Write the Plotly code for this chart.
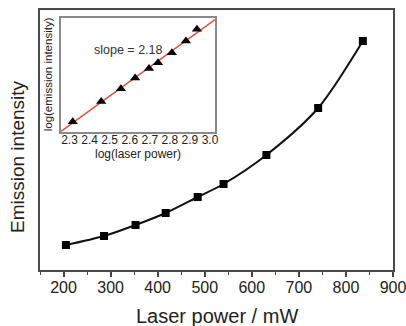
import numpy as np
import plotly.graph_objects as go

# Main data
laser_power = [205, 286, 353, 417, 485, 540, 631, 741, 836]          # mW
emission = [25, 34, 45, 57, 73, 86, 115, 162, 229]                   # a.u.

# Inset data (log-log)
log_power = [2.316, 2.458, 2.556, 2.627, 2.696, 2.741, 2.810, 2.880, 2.935]
log_emission = [3.093, 3.380, 3.562, 3.714, 3.850, 3.930, 4.073, 4.240, 4.407]

x_ticks_main = [200, 300, 400, 500, 600, 700, 800, 900]
x_ticks_inset = [2.3, 2.4, 2.5, 2.6, 2.7, 2.8, 2.9, 3.0]
slope_label = "slope = 2.18"

FONT = "Arial, Liberation Sans, Helvetica, sans-serif"

# linear fit for inset
coef = np.polyfit(log_power, log_emission, 1)
fit_x = np.array([2.256, 3.025])
fit_y = np.polyval(coef, fit_x)

fig = go.Figure()

fig.add_trace(go.Scatter(
    x=laser_power, y=emission, mode="lines+markers",
    line=dict(color="#111", width=2, shape="spline", smoothing=0.8),
    marker=dict(symbol="square", size=8, color="#000"),
    xaxis="x", yaxis="y", showlegend=False))

fig.add_trace(go.Scatter(
    x=fit_x, y=fit_y, mode="lines",
    line=dict(color="#e0513a", width=1.5),
    xaxis="x2", yaxis="y2", showlegend=False))

fig.add_trace(go.Scatter(
    x=log_power, y=log_emission, mode="markers",
    marker=dict(symbol="triangle-up", size=9, color="#000"),
    xaxis="x2", yaxis="y2", showlegend=False))

fig.update_layout(
    width=406, height=326,
    margin=dict(l=40, r=13, t=10, b=56, autoexpand=False),
    paper_bgcolor="white", plot_bgcolor="white",
    font=dict(family=FONT, color="#222"),
    xaxis=dict(
        domain=[0, 1], range=[150, 900],
        tickvals=x_ticks_main, ticks="outside", ticklen=5, tickwidth=1.5,
        tickcolor="#444", tickfont=dict(size=16, color="#222"),
        ticklabelstandoff=-3, ticklabeloverflow="allow",
        minor=dict(ticks="outside", ticklen=3, tickwidth=1.2, dtick=50, tickcolor="#444"),
        showline=True, mirror=True, linecolor="#4a4a4a", linewidth=2,
        showgrid=False, zeroline=False),
    yaxis=dict(
        domain=[0, 1], range=[0, 260],
        showticklabels=False, ticks="",
        showline=True, mirror=True, linecolor="#4a4a4a", linewidth=2,
        showgrid=False, zeroline=False),
    xaxis2=dict(
        domain=[0.0586, 0.4958], range=[2.256, 3.025], anchor="y2",
        tickvals=x_ticks_inset, ticktext=[f"{v:.1f}" for v in x_ticks_inset],
        ticks="", tickfont=dict(size=12, color="#222"),
        ticklabelstandoff=-4, ticklabeloverflow="allow",
        showline=True, mirror=True, linecolor="#8a8a8a", linewidth=1.5,
        showgrid=False, zeroline=False),
    yaxis2=dict(
        domain=[0.532, 0.97], range=[2.95, 4.57], anchor="x2",
        showticklabels=False, ticks="",
        showline=True, mirror=True, linecolor="#8a8a8a", linewidth=1.5,
        showgrid=False, zeroline=False),
    annotations=[
        dict(text="Laser power / mW", xref="paper", yref="paper",
             x=0.5, y=-0.177, xanchor="center", yanchor="middle",
             showarrow=False, font=dict(size=20, color="#222")),
        dict(text="Emission intensity", xref="paper", yref="paper",
             x=-0.062, y=0.435, xanchor="center", yanchor="middle",
             textangle=-90, showarrow=False, font=dict(size=19, color="#222")),
        dict(text=slope_label, xref="paper", yref="paper",
             x=0.25, y=0.846, xanchor="center", yanchor="middle",
             showarrow=False, font=dict(size=12.5, color="#333")),
        dict(text="log(laser power)", xref="paper", yref="paper",
             x=0.278, y=0.445, xanchor="center", yanchor="middle",
             showarrow=False, font=dict(size=12, color="#222")),
        dict(text="log(emission intensity)", xref="paper", yref="paper",
             x=0.025, y=0.752, xanchor="center", yanchor="middle",
             textangle=-90, showarrow=False, font=dict(size=11.5, color="#222")),
    ],
)

fig.write_html("out.html")
